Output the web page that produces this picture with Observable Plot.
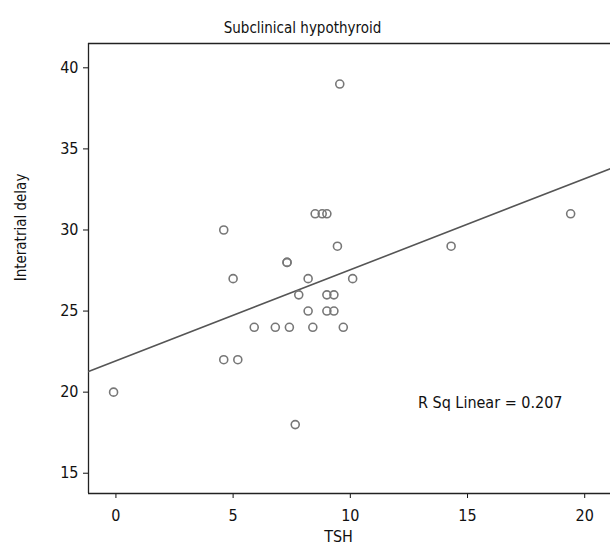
<!DOCTYPE html>
<html><head><meta charset="utf-8">
<script src="https://cdn.jsdelivr.net/npm/d3@7"></script>
<script src="https://cdn.jsdelivr.net/npm/@observablehq/plot@0.6"></script>
<style>body{margin:0;background:#fff}</style>
</head><body><div id="chart"></div>
<script>
const tsh   = [-0.1, 4.6, 5.0, 4.6, 5.2, 5.9, 6.8, 7.4, 8.4, 9.7, 7.3, 7.3, 8.2, 10.1, 7.8, 9.0, 9.3, 8.2, 9.0, 9.3, 8.5, 8.8, 9.0, 9.45, 9.55, 7.65, 14.3, 19.4];
const delay = [20, 30, 27, 22, 22, 24, 24, 24, 24, 24, 28, 28, 27, 27, 26, 26, 26, 25, 25, 25, 31, 31, 31, 29, 39, 18, 29, 31];
const xTicks = [0, 5, 10, 15, 20];
const yTicks = [15, 20, 25, 30, 35, 40];
const title = "Subclinical hypothyroid";
const xLabel = "TSH";
const yLabel = "Interatrial delay";
const rsqLabel = "R Sq Linear = 0.207";
const xDomain = [-1.17, 21.1];
const yDomain = [13.75, 41.5];

const data = tsh.map((x, i) => ({x, y: delay[i]}));
const mx = d3.mean(tsh), my = d3.mean(delay);
const slope = d3.sum(data, d => (d.x - mx) * (d.y - my)) / d3.sum(data, d => (d.x - mx) ** 2);
const intercept = my - slope * mx;
const fit = xDomain.map(x => ({x, y: intercept + slope * x}));

const font = '"Liberation Sans Narrow","DejaVu Sans Condensed","Roboto Condensed",sans-serif';
const plot = Plot.plot({
  width: 610, height: 550,
  marginLeft: 88, marginRight: 0, marginTop: 43, marginBottom: 57,
  style: {fontFamily: font, fontSize: "16px", color: "#111", background: "#fff"},
  x: {domain: xDomain},
  y: {domain: yDomain},
  marks: [
    Plot.axisX({ticks: xTicks, tickSize: 5, tickPadding: 11, label: null, fontSize: 16}),
    Plot.axisY({ticks: yTicks, tickSize: 5, tickPadding: 5, label: null, fontSize: 16}),
    Plot.ruleX([xDomain[0]], {stroke: "#222", strokeWidth: 1.3}),
    Plot.ruleY([yDomain[0], yDomain[1]], {stroke: "#222", strokeWidth: 1.3}),
    Plot.line(fit, {x: "x", y: "y", stroke: "#555", strokeWidth: 1.6, clip: true}),
    Plot.dot(data, {x: "x", y: "y", r: 4, stroke: "#777", strokeWidth: 1.6, fill: "none"}),
    Plot.text([rsqLabel], {text: d => d, frameAnchor: "bottom-right", dx: -48, dy: -86, textAnchor: "end", fontSize: 16, fill: "#111"}),
    Plot.text([title], {text: d => d, frameAnchor: "top", dx: -47, dy: -21, fontSize: 15, fill: "#111"}),
    Plot.text([xLabel], {text: d => d, frameAnchor: "bottom", dx: -11, dy: 48, fontSize: 16, fill: "#111"}),
    Plot.text([yLabel], {text: d => d, frameAnchor: "left", textAnchor: "middle", dx: -67, dy: -41, rotate: -90, fontSize: 15, fill: "#111"})
  ]
});
document.getElementById("chart").append(plot);
</script>
</body></html>
